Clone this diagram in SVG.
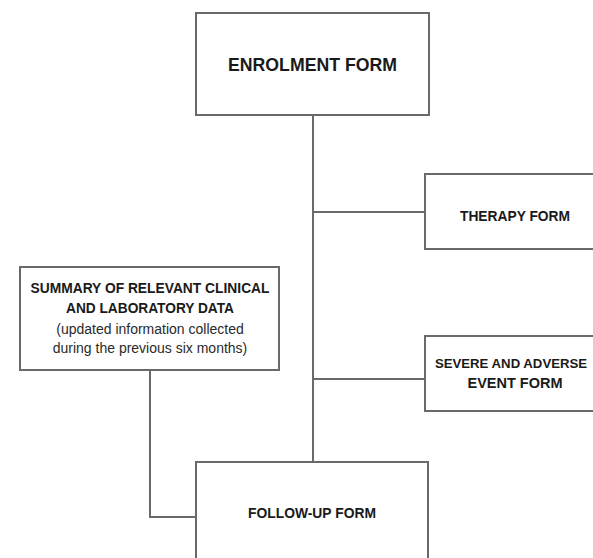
<svg xmlns="http://www.w3.org/2000/svg" width="593" height="558" viewBox="0 0 593 558">
<style>
.box{fill:#fff;stroke:#6a6a6a;stroke-width:2}
.line{fill:none;stroke:#6a6a6a;stroke-width:2}
.h{font-family:"Liberation Sans",Arial,sans-serif;font-weight:bold;fill:#1a1a1a;text-anchor:middle}
.n{font-family:"Liberation Sans",Arial,sans-serif;fill:#2a2a2a;text-anchor:middle;font-size:14px}
</style>
<rect width="593" height="558" fill="#fff"/>
<g id="connectors">
<line class="line" x1="313" y1="115" x2="313" y2="462"/>
<line class="line" x1="313" y1="212" x2="425" y2="212"/>
<line class="line" x1="313" y1="379" x2="425" y2="379"/>
<polyline class="line" points="150,370 150,517 196,517"/>
</g>
<g id="enrolment">
<rect class="box" x="196" y="13" width="233" height="102"/>
<text class="h" x="312.5" y="71" font-size="18" textLength="169" lengthAdjust="spacingAndGlyphs">ENROLMENT FORM</text>
</g>
<g id="therapy">
<rect class="box" x="425" y="174" width="185" height="75"/>
<text class="h" x="515" y="221" font-size="14.5" textLength="110" lengthAdjust="spacingAndGlyphs">THERAPY FORM</text>
</g>
<g id="summary">
<rect class="box" x="20" y="267" width="259" height="103"/>
<text class="h" x="150" y="293" font-size="14.5" textLength="239" lengthAdjust="spacingAndGlyphs">SUMMARY OF RELEVANT CLINICAL</text>
<text class="h" x="150" y="313" font-size="14.5" textLength="168" lengthAdjust="spacingAndGlyphs">AND LABORATORY DATA</text>
<text class="n" x="150" y="334">(updated information collected</text>
<text class="n" x="150" y="353">during the previous six months)</text>
</g>
<g id="severe">
<rect class="box" x="425" y="336" width="185" height="75"/>
<text class="h" x="511" y="368" font-size="13.2">SEVERE AND ADVERSE</text>
<text class="h" x="515" y="388" font-size="14.5">EVENT FORM</text>
</g>
<g id="followup">
<rect class="box" x="196" y="462" width="232" height="110"/>
<text class="h" x="312" y="518" font-size="14.5" textLength="128" lengthAdjust="spacingAndGlyphs">FOLLOW-UP FORM</text>
</g>
</svg>
